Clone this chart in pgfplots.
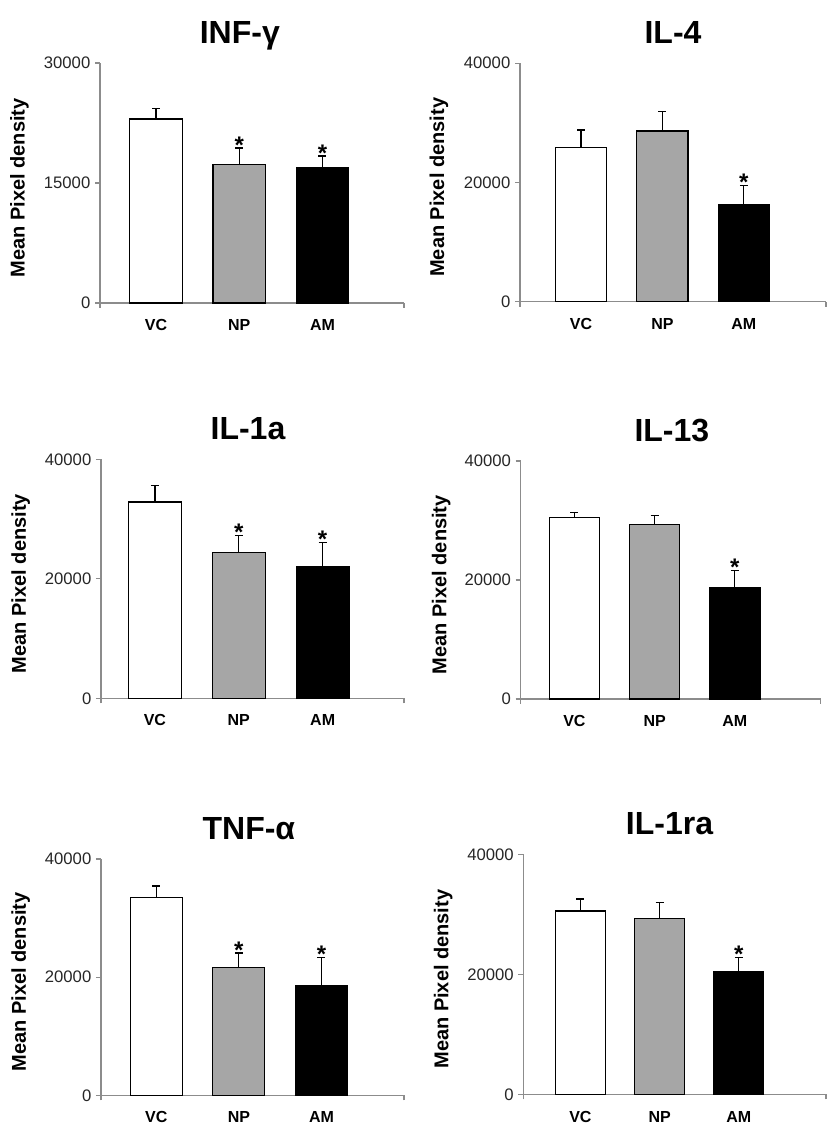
\documentclass[border=0pt]{standalone}
\usepackage{fontspec}
\setmainfont{Liberation Sans}
\usepackage{pgfplots}
\pgfplotsset{compat=1.18}
\definecolor{axisgray}{HTML}{8C8C8C}
\definecolor{bargray}{HTML}{A6A6A6}
\pgfplotsset{
 panel/.style={
  scale only axis,
  anchor=south west,
  axis lines=left,
  axis line style={-, draw=axisgray, line width=0.8pt},
  tick align=outside,
  major tick length=3.75pt,
  ytick style={draw=axisgray, line width=0.8pt},
  xtick={0,1,2},
  xticklabels={VC,NP,AM},
  xtick style={draw=none},
  extra x tick labels={},
  extra x tick style={xtick style={draw=axisgray, line width=0.8pt}},
  x tick label style={font=\bfseries\fontsize{12}{12}\selectfont, anchor=base, yshift=-17pt},
  y tick label style={font=\fontsize{12.5}{13}\selectfont, text=black!85},
  /pgf/number format/assume math mode=true,
  /pgf/number format/1000 sep={},
  scaled y ticks=false,
  ymin=0,
  every axis y label/.style={at={(axis description cs:-0.265,0.48)}, rotate=90, anchor=center, font=\bfseries\fontsize{15}{15}\selectfont},
  ylabel={Mean Pixel density},
  title style={anchor=base, yshift=8.6pt, font=\bfseries\fontsize{24}{24}\selectfont},
  clip=false,
 },
 bars/.style={ybar, bar width=0.63, bar shift=0pt, draw=black, line width=0.9pt},
 errs/.style={error bars/.cd, y dir=plus, y explicit,
   error bar style={line width=0.9pt, draw=black},
   error mark options={rotate=90, mark size=3pt, line width=0.9pt, draw=black}},
 stars/.style={draw=none, mark=none, nodes near coords={*},
   every node near coord/.append style={font=\bfseries\fontsize{18}{18}\selectfont, anchor=base, yshift=-3.8pt, text=black}},
}
\begin{document}
\begin{tikzpicture}
\path[use as bounding box] (0,0) rectangle (620.25pt,851.25pt);

% INF-gamma
\begin{axis}[panel, at={(75pt,624pt)}, width=228pt, height=180pt,
  xmin=-0.673, xmax=2.98, extra x ticks={-0.673,2.98},
  ymax=30000, ytick={0,15000,30000},
  title={INF-γ}, title style={at={(axis description cs:0.46,1)}}]
\addplot[bars, fill=white, errs] coordinates {(0,23000) +- (0,1290)};
\addplot[bars, fill=bargray, errs] coordinates {(1,17290) +- (0,2085)};
\addplot[bars, fill=black, errs] coordinates {(2,16960) +- (0,1415)};
\addplot[stars] coordinates {(1,19375) (2,18375)};
\end{axis}

% IL-4
\begin{axis}[panel, at={(390pt,625pt)}, width=229.5pt, height=178.8pt,
  xmin=-0.75, xmax=3.01, extra x ticks={-0.75,3.01},
  ymax=40000, ytick={0,20000,40000},
  title={IL-4}, title style={at={(axis description cs:0.5,1)}}]
\addplot[bars, fill=white, errs] coordinates {(0,25840) +- (0,2970)};
\addplot[bars, fill=bargray, errs] coordinates {(1,28640) +- (0,3240)};
\addplot[bars, fill=black, errs] coordinates {(2,16340) +- (0,3190)};
\addplot[stars] coordinates {(2,19530)};
\end{axis}

% IL-1a
\begin{axis}[panel, at={(75.75pt,327.5pt)}, width=227.25pt, height=179.25pt,
  xmin=-0.643, xmax=2.97, extra x ticks={-0.643,2.97},
  ymax=40000, ytick={0,20000,40000},
  title={IL-1a}, title style={at={(axis description cs:0.485,1)}}]
\addplot[bars, fill=white, errs] coordinates {(0,32850) +- (0,2730)};
\addplot[bars, fill=bargray, errs] coordinates {(1,24430) +- (0,2850)};
\addplot[bars, fill=black, errs] coordinates {(2,22030) +- (0,4010)};
\addplot[stars] coordinates {(1,27280) (2,26040)};
\end{axis}

% IL-13
\begin{axis}[panel, at={(390.5pt,327pt)}, width=225pt, height=178.5pt,
  xmin=-0.67, xmax=3.07, extra x ticks={-0.67,3.07},
  ymax=40000, ytick={0,20000,40000},
  title={IL-13}, title style={at={(axis description cs:0.504,1)}}]
\addplot[bars, fill=white, errs] coordinates {(0,30470) +- (0,840)};
\addplot[bars, fill=bargray, errs] coordinates {(1,29360) +- (0,1510)};
\addplot[bars, fill=black, errs] coordinates {(2,18770) +- (0,2790)};
\addplot[stars] coordinates {(2,21560)};
\end{axis}

% TNF-alpha
\begin{axis}[panel, at={(75.75pt,29.8pt)}, width=227.25pt, height=177.2pt,
  xmin=-0.67, xmax=3.0, extra x ticks={-0.67,3.0},
  ymax=40000, ytick={0,20000,40000},
  title={TNF-α}, title style={at={(axis description cs:0.488,1)}}]
\addplot[bars, fill=white, errs] coordinates {(0,33450) +- (0,1980)};
\addplot[bars, fill=bargray, errs] coordinates {(1,21600) +- (0,2490)};
\addplot[bars, fill=black, errs] coordinates {(2,18500) +- (0,4790)};
\addplot[stars] coordinates {(1,24090) (2,23290)};
\end{axis}

% IL-1ra
\begin{axis}[panel, at={(392.5pt,30.5pt)}, width=227pt, height=180pt,
  xmin=-0.72, xmax=3.1, extra x ticks={-0.72,3.1},
  ymax=40000, ytick={0,20000,40000},
  title={IL-1ra}, title style={at={(axis description cs:0.483,1)}}]
\addplot[bars, fill=white, errs] coordinates {(0,30550) +- (0,2000)};
\addplot[bars, fill=bargray, errs] coordinates {(1,29270) +- (0,2730)};
\addplot[bars, fill=black, errs] coordinates {(2,20430) +- (0,2340)};
\addplot[stars] coordinates {(2,22770)};
\end{axis}
\end{tikzpicture}
\end{document}
